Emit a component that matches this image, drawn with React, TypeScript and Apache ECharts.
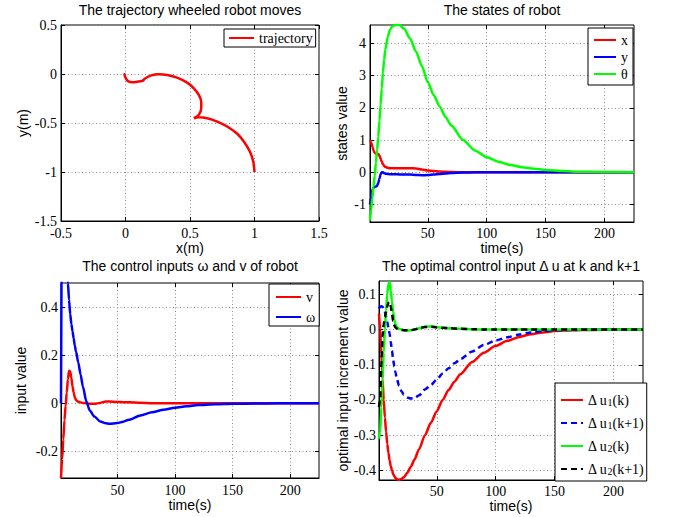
import React, { useEffect, useRef } from 'react';
import * as echarts from 'echarts';

// ---------- data ----------
const trajX = [1.0, 0.99, 0.964, 0.917, 0.866, 0.788, 0.711, 0.633, 0.568, 0.53, 0.568, 0.587, 0.587, 0.568, 0.53, 0.478, 0.4, 0.323, 0.258, 0.194, 0.155, 0.129, 0.09, 0.052, 0.018, 0.0, -0.008, 0.0];
const trajY = [-1.0, -0.892, -0.79, -0.689, -0.61, -0.536, -0.485, -0.451, -0.441, -0.451, -0.417, -0.349, -0.282, -0.214, -0.146, -0.088, -0.037, -0.01, -0.003, -0.017, -0.044, -0.071, -0.078, -0.085, -0.071, -0.037, -0.003, 0.0];

const tStates = [1, 2, 3, 4, 5, 6, 7, 8, 9, 10, 11, 12, 13, 14, 16, 18, 20, 23, 26, 30, 35, 40, 45, 50, 55, 60, 65, 70, 80, 90, 100, 110, 120, 130, 140, 150, 165, 180, 200, 225];
const stateX = [1.0, 0.92, 0.8, 0.68, 0.6, 0.58, 0.58, 0.57, 0.52, 0.42, 0.33, 0.25, 0.2, 0.17, 0.14, 0.13, 0.13, 0.13, 0.13, 0.13, 0.13, 0.12, 0.09, 0.06, 0.04, 0.025, 0.015, 0.01, 0.003, 0, 0, 0, 0, 0, 0, 0, 0, 0, 0, 0];
const stateY = [-1.0, -0.75, -0.55, -0.47, -0.45, -0.44, -0.42, -0.33, -0.2, -0.06, 0.0, 0.0, -0.02, -0.04, -0.05, -0.06, -0.06, -0.06, -0.065, -0.065, -0.07, -0.08, -0.09, -0.085, -0.07, -0.05, -0.035, -0.02, -0.005, 0, 0, 0, 0, 0, 0, 0, 0, 0, 0, 0];
const stateTheta = [-1.5, -1.15, -0.8, -0.45, -0.1, 0.3, 0.7, 1.1, 1.6, 2.1, 2.6, 3.1, 3.5, 3.8, 4.2, 4.42, 4.53, 4.58, 4.57, 4.45, 4.15, 3.75, 3.3, 2.8, 2.4, 2.05, 1.72, 1.45, 1.0, 0.68, 0.47, 0.33, 0.23, 0.16, 0.11, 0.075, 0.04, 0.02, 0.01, 0.003];

const tInputs = [1, 2, 3, 4, 5, 6, 7, 8, 9, 10, 11, 12, 13, 14, 16, 18, 20, 23, 26, 30, 35, 40, 43, 50, 55, 60, 70, 80, 90, 100, 110, 120, 135, 150, 170, 190, 225];
const inputV = [-0.31, -0.23, -0.15, -0.07, -0.01, 0.045, 0.1, 0.136, 0.132, 0.105, 0.07, 0.045, 0.025, 0.014, 0.007, 0.004, 0.002, 0.0, -0.002, -0.002, 0.002, 0.008, 0.008, 0.006, 0.005, 0.005, 0.003, 0.001, 0, 0, 0, 0, 0, 0, 0, 0, 0];
const inputOmega = [0, 0.95, 0.85, 0.76, 0.67, 0.58, 0.5, 0.43, 0.37, 0.33, 0.3, 0.27, 0.24, 0.215, 0.17, 0.12, 0.07, 0.008, -0.03, -0.055, -0.075, -0.083, -0.085, -0.082, -0.076, -0.068, -0.05, -0.037, -0.026, -0.018, -0.012, -0.007, -0.004, -0.002, -0.001, 0, 0];

const tDelta = [1, 2, 3, 4, 5, 6, 7, 8, 9, 10, 11, 12, 13, 14, 15, 16, 18, 20, 22, 25, 28, 31, 35, 40, 45, 50, 55, 60, 65, 70, 80, 90, 100, 110, 120, 130, 140, 150, 165, 180, 200, 225];
const du1k = [0.045, 0.0, -0.07, -0.14, -0.2, -0.25, -0.29, -0.325, -0.35, -0.372, -0.388, -0.4, -0.41, -0.417, -0.422, -0.425, -0.427, -0.425, -0.42, -0.407, -0.39, -0.37, -0.34, -0.3, -0.265, -0.232, -0.2, -0.172, -0.148, -0.127, -0.092, -0.066, -0.046, -0.032, -0.021, -0.013, -0.008, -0.004, -0.002, -0.001, 0, 0];
const du1k1 = [0.06, 0.065, 0.066, 0.065, 0.06, 0.05, 0.038, 0.022, 0.005, -0.012, -0.035, -0.06, -0.085, -0.105, -0.122, -0.138, -0.16, -0.175, -0.185, -0.193, -0.196, -0.195, -0.187, -0.17, -0.158, -0.142, -0.125, -0.11, -0.096, -0.084, -0.062, -0.044, -0.031, -0.022, -0.014, -0.008, -0.004, -0.002, -0.001, 0, 0, 0];
const du2k = [-0.31, -0.29, -0.22, -0.14, -0.065, 0.0, 0.055, 0.1, 0.13, 0.135, 0.11, 0.08, 0.05, 0.028, 0.015, 0.008, 0.002, 0.0, -0.002, -0.003, -0.002, 0.0, 0.004, 0.008, 0.009, 0.007, 0.005, 0.004, 0.003, 0.002, 0.001, 0, 0, 0, 0, 0, 0, 0, 0, 0, 0, 0];
const du2k1 = [-0.22, -0.2, -0.1, -0.02, 0.015, 0.035, 0.05, 0.065, 0.077, 0.079, 0.065, 0.045, 0.025, 0.012, 0.006, 0.003, 0.0, -0.001, -0.002, -0.002, -0.002, 0.0, 0.004, 0.007, 0.008, 0.006, 0.005, 0.004, 0.003, 0.002, 0.001, 0, 0, 0, 0, 0, 0, 0, 0, 0, 0, 0];

const trajTicksX = [-0.5, 0, 0.5, 1, 1.5];
const trajTicksY = [-1.5, -1, -0.5, 0, 0.5];
const timeTicks = [50, 100, 150, 200];
const stateTicks = [-1, 0, 1, 2, 3, 4];
const inputTicks = [-0.2, 0, 0.2, 0.4];
const deltaTicks = [-0.4, -0.3, -0.2, -0.1, 0, 0.1];

// ---------- styling ----------
const SERIF = '"Liberation Serif", "Times New Roman", serif';
const SANS = '"Liberation Sans", Arial, sans-serif';

const grids = [
  { left: 61, top: 25, width: 258, height: 196 },
  { left: 370, top: 25, width: 264, height: 197 },
  { left: 61, top: 283, width: 258, height: 195 },
  { left: 379, top: 281, width: 264, height: 199 },
];

const fmt = (v: number) => `${+(+v).toFixed(3)}`;

function mainX(g: number, min: number, max: number, ticks: number[], name: string, nameGap: number, margin: number) {
  return {
    type: 'value', gridIndex: g, min, max, position: 'bottom',
    axisLine: { show: true, onZero: false, lineStyle: { color: '#000', width: 1 } },
    axisTick: { show: true, inside: true, length: 4, customValues: ticks, lineStyle: { color: '#000' } },
    axisLabel: { customValues: ticks, margin, formatter: fmt, fontFamily: SERIF, fontSize: 14, color: '#000' },
    splitLine: { show: true, lineStyle: { color: '#8a8a8a', width: 1, type: [1, 2.5] } },
    name, nameLocation: 'middle', nameGap,
    nameTextStyle: { fontFamily: SANS, fontSize: 14, color: '#000' },
  };
}
function topX(g: number, min: number, max: number, ticks: number[]) {
  return {
    type: 'value', gridIndex: g, min, max, position: 'top',
    axisLine: { show: false, onZero: false },
    axisTick: { show: true, inside: true, length: 4, customValues: ticks, lineStyle: { color: '#000' } },
    axisLabel: { show: false },
    splitLine: { show: false },
  };
}
function mainY(g: number, min: number, max: number, ticks: number[], name: string, nameGap: number, margin: number) {
  return {
    type: 'value', gridIndex: g, min, max, position: 'left',
    axisLine: { show: true, onZero: false, lineStyle: { color: '#000', width: 1 } },
    axisTick: { show: true, inside: true, length: 4, customValues: ticks, lineStyle: { color: '#000' } },
    axisLabel: { customValues: ticks, margin, formatter: fmt, fontFamily: SERIF, fontSize: 14, color: '#000' },
    splitLine: { show: true, lineStyle: { color: '#8a8a8a', width: 1, type: [1, 2.5] } },
    name, nameLocation: 'middle', nameGap,
    nameTextStyle: { fontFamily: SANS, fontSize: 14, color: '#000' },
  };
}
function rightY(g: number, min: number, max: number, ticks: number[]) {
  return {
    type: 'value', gridIndex: g, min, max, position: 'right',
    axisLine: { show: false, onZero: false },
    axisTick: { show: true, inside: true, length: 4, customValues: ticks, lineStyle: { color: '#000' } },
    axisLabel: { show: false },
    splitLine: { show: false },
  };
}

function lineSeries(name: string, xs: number[], ys: number[], g: number, color: string, dashed = false, smooth: number = 0.25) {
  return {
    type: 'line', name,
    xAxisIndex: 2 * g, yAxisIndex: 2 * g,
    data: xs.map((x, i) => [x, ys[i]]),
    showSymbol: false, symbol: 'none', smooth,
    smoothMonotone: g === 0 ? undefined : 'x',
    clip: true, silent: true,
    lineStyle: { color, width: 2.5, type: dashed ? [6, 4] : 'solid' },
    itemStyle: { color },
  };
}

const legendBase = {
  orient: 'vertical', backgroundColor: '#fff', borderColor: '#000', borderWidth: 1, borderRadius: 0,
  itemWidth: 22, itemHeight: 14, align: 'left', selectedMode: false,
  itemStyle: { color: 'transparent', borderColor: 'transparent', borderWidth: 0, opacity: 0 },
  textStyle: { fontFamily: SERIF, fontSize: 14, color: '#000', lineHeight: 14 },
};

const titles = [
  { text: 'The trajectory wheeled robot moves', x: 190, y: 10 },
  { text: 'The states of robot', x: 502, y: 10 },
  { text: 'The control inputs ω and v of robot', x: 190, y: 266 },
  { text: 'The optimal control input Δ u at k and k+1', x: 511, y: 266 },
];

export default function App() {
  const ref = useRef<HTMLDivElement>(null);
  useEffect(() => {
    const chart = echarts.init(ref.current!, null, { renderer: 'svg' });
    const option: any = {
      animation: false,
      backgroundColor: '#fff',
      grid: grids.map((g) => ({ ...g, show: true, borderColor: '#000', borderWidth: 1, backgroundColor: 'transparent', containLabel: false })),
      xAxis: [
        mainX(0, -0.5, 1.5, trajTicksX, 'x(m)', 20, 5), topX(0, -0.5, 1.5, trajTicksX),
        mainX(1, 1, 225, timeTicks, 'time(s)', 19, 4), topX(1, 1, 225, timeTicks),
        mainX(2, 1, 225, timeTicks, 'time(s)', 13, 5), topX(2, 1, 225, timeTicks),
        mainX(3, 1, 225, timeTicks, 'time(s)', 13, 4), topX(3, 1, 225, timeTicks),
      ],
      yAxis: [
        mainY(0, -1.5, 0.5, trajTicksY, 'y(m)', 31, 4), rightY(0, -1.5, 0.5, trajTicksY),
        mainY(1, -1.54, 4.57, stateTicks, 'states value', 21, 4), rightY(1, -1.54, 4.57, stateTicks),
        mainY(2, -0.31, 0.5, inputTicks, 'input value', 33, 3), rightY(2, -0.31, 0.5, inputTicks),
        mainY(3, -0.4275, 0.138, deltaTicks, 'optimal input increment value', 26, 3), rightY(3, -0.4275, 0.138, deltaTicks),
      ],
      legend: [
        { ...legendBase, data: ['trajectory'], left: 224, top: 29, padding: [2, 3, 2, 4], itemWidth: 25, itemGap: 0 },
        { ...legendBase, data: ['x', 'y', 'θ'], left: 588, top: 28, padding: [5, 5, 4, 5], itemGap: 3 },
        { ...legendBase, data: ['v', 'ω'], left: 269, top: 284, padding: [6, 4, 2, 6], itemWidth: 25, itemGap: 6 },
        {
          ...legendBase,
          data: ['Δu1(k)', 'Δu1(k+1)', 'Δu2(k)', 'Δu2(k+1)'],
          left: 555, top: 383, padding: [5, 3, 5, 5], itemGap: 4,
          formatter: (name: string) => {
            const m = name.match(/^Δu(\d)(.*)$/);
            return m ? `{a|Δ u}{s|${m[1]}}{a|${m[2]}}` : name;
          },
          textStyle: {
            fontFamily: SERIF, fontSize: 14, color: '#000',
            rich: {
              a: { fontFamily: SERIF, fontSize: 14, color: '#000', lineHeight: 14 },
              s: { fontFamily: SERIF, fontSize: 10, color: '#000', lineHeight: 10, padding: [9, 0, 0, 0], verticalAlign: 'bottom' },
            },
          },
        },
      ],
      graphic: titles.map((t) => ({
        type: 'text', x: t.x, y: t.y, silent: true,
        style: { text: t.text, fill: '#000', fontFamily: SANS, fontSize: 14, align: 'center', verticalAlign: 'middle' },
      })),
      series: [
        lineSeries('trajectory', trajX, trajY, 0, '#ff0000', false, 0.3),
        lineSeries('x', tStates, stateX, 1, '#ff0000'),
        lineSeries('y', tStates, stateY, 1, '#0000ff'),
        lineSeries('θ', tStates, stateTheta, 1, '#00ff00'),
        lineSeries('v', tInputs, inputV, 2, '#ff0000'),
        lineSeries('ω', tInputs, inputOmega, 2, '#0000ff'),
        lineSeries('Δu1(k)', tDelta, du1k, 3, '#ff0000'),
        lineSeries('Δu1(k+1)', tDelta, du1k1, 3, '#0000ff', true),
        lineSeries('Δu2(k)', tDelta, du2k, 3, '#00ff00'),
        lineSeries('Δu2(k+1)', tDelta, du2k1, 3, '#000000', true),
      ],
    };
    chart.setOption(option);
    return () => chart.dispose();
  }, []);
  return <div ref={ref} style={{ position: 'absolute', left: 0, top: 0, width: 674, height: 517, background: '#fff' }} />;
}
